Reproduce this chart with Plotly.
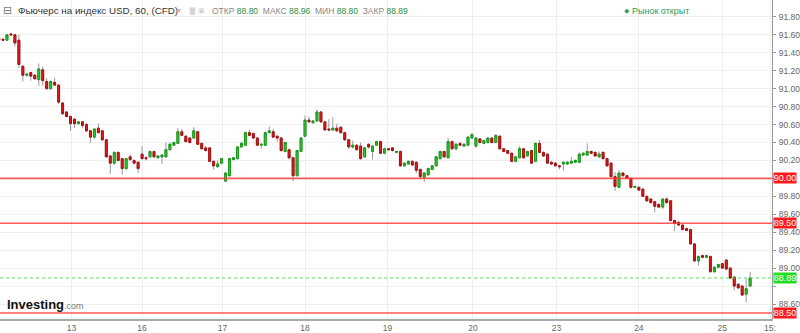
import plotly.graph_objects as go

# ---- data (hourly candles) ----
opens = [91.56, 91.55, 91.54, 91.61, 91.60, 91.54, 91.25, 91.15, 91.18, 91.15,
         91.10, 91.21, 91.08, 91.00, 91.07, 91.04, 90.84, 90.74, 90.69, 90.66,
         90.61, 90.63, 90.60, 90.53, 90.46, 90.56, 90.53, 90.43, 90.25, 90.17,
         90.29, 90.22, 90.11, 90.24, 90.20, 90.18, 90.27, 90.23, 90.24, 90.30,
         90.23, 90.24, 90.24, 90.32, 90.37, 90.39, 90.52, 90.47, 90.45, 90.45,
         90.52, 90.39, 90.34, 90.34, 90.19, 90.13, 90.17, 89.97, 90.03, 90.21,
         90.22, 90.35, 90.37, 90.51, 90.50, 90.45, 90.37, 90.37, 90.51, 90.52,
         90.47, 90.45, 90.30, 90.32, 90.23, 90.03, 90.30, 90.47, 90.65, 90.62,
         90.64, 90.74, 90.63, 90.55, 90.54, 90.56, 90.57, 90.51, 90.43, 90.35,
         90.37, 90.36, 90.24, 90.38, 90.30, 90.37, 90.41, 90.28, 90.33, 90.34,
         90.29, 90.30, 90.14, 90.16, 90.19, 90.18, 90.10, 90.01, 90.04, 90.10,
         90.14, 90.22, 90.30, 90.23, 90.41, 90.33, 90.39, 90.36, 90.37, 90.45,
         90.36, 90.44, 90.39, 90.40, 90.45, 90.40, 90.47, 90.33, 90.31, 90.28,
         90.19, 90.23, 90.33, 90.25, 90.31, 90.19, 90.39, 90.29, 90.27, 90.18,
         90.17, 90.14, 90.16, 90.16, 90.17, 90.18, 90.18, 90.26, 90.26, 90.30,
         90.29, 90.24, 90.29, 90.22, 90.17, 90.02, 89.90, 90.06, 90.03, 90.00,
         89.90, 89.90, 89.88, 89.80, 89.77, 89.74, 89.71, 89.68, 89.77, 89.75,
         89.53, 89.51, 89.48, 89.44, 89.43, 89.27, 89.08, 89.14, 89.12, 89.13,
         88.96, 89.01, 89.05, 89.09, 89.00, 88.90, 88.82, 88.80, 88.71, 88.80]
highs = [91.57, 91.56, 91.61, 91.62, 91.61, 91.60, 91.26, 91.18, 91.19, 91.16,
         91.28, 91.25, 91.12, 91.09, 91.12, 91.05, 90.85, 90.75, 90.70, 90.67,
         90.64, 90.64, 90.62, 90.54, 90.56, 90.61, 90.54, 90.44, 90.26, 90.30,
         90.30, 90.23, 90.23, 90.27, 90.21, 90.19, 90.36, 90.25, 90.31, 90.31,
         90.26, 90.27, 90.40, 90.40, 90.41, 90.56, 90.55, 90.48, 90.46, 90.57,
         90.53, 90.40, 90.36, 90.35, 90.20, 90.20, 90.23, 90.07, 90.23, 90.24,
         90.36, 90.41, 90.52, 90.54, 90.51, 90.46, 90.39, 90.52, 90.58, 90.55,
         90.48, 90.46, 90.41, 90.33, 90.24, 90.32, 90.46, 90.70, 90.69, 90.65,
         90.77, 90.75, 90.64, 90.66, 90.68, 90.61, 90.58, 90.52, 90.44, 90.42,
         90.38, 90.40, 90.35, 90.39, 90.37, 90.42, 90.42, 90.34, 90.34, 90.35,
         90.31, 90.31, 90.18, 90.20, 90.20, 90.19, 90.11, 90.07, 90.12, 90.15,
         90.25, 90.31, 90.31, 90.45, 90.42, 90.40, 90.40, 90.39, 90.47, 90.50,
         90.46, 90.45, 90.43, 90.46, 90.46, 90.49, 90.48, 90.34, 90.32, 90.29,
         90.25, 90.36, 90.34, 90.31, 90.32, 90.40, 90.43, 90.30, 90.28, 90.19,
         90.18, 90.15, 90.19, 90.19, 90.24, 90.21, 90.29, 90.29, 90.39, 90.31,
         90.30, 90.30, 90.30, 90.23, 90.18, 90.07, 90.09, 90.07, 90.04, 90.01,
         89.92, 89.91, 89.89, 89.81, 89.78, 89.75, 89.72, 89.78, 89.79, 89.76,
         89.54, 89.53, 89.49, 89.45, 89.44, 89.28, 89.14, 89.15, 89.15, 89.14,
         89.02, 89.05, 89.06, 89.10, 89.01, 88.91, 88.83, 88.81, 88.88, 88.96]
lows = [91.54, 91.53, 91.53, 91.59, 91.47, 91.23, 91.08, 91.13, 91.09, 91.10,
        91.03, 91.03, 90.99, 90.99, 91.03, 90.83, 90.71, 90.68, 90.53, 90.56,
        90.60, 90.56, 90.52, 90.40, 90.44, 90.50, 90.42, 90.23, 90.05, 90.15,
        90.19, 90.04, 90.09, 90.19, 90.16, 90.06, 90.21, 90.20, 90.23, 90.23,
        90.22, 90.16, 90.23, 90.31, 90.36, 90.38, 90.47, 90.40, 90.39, 90.44,
        90.37, 90.32, 90.30, 90.18, 90.10, 90.12, 90.16, 89.96, 90.02, 90.20,
        90.21, 90.34, 90.36, 90.47, 90.44, 90.36, 90.33, 90.36, 90.50, 90.45,
        90.41, 90.30, 90.29, 90.21, 89.97, 90.02, 90.29, 90.46, 90.62, 90.61,
        90.63, 90.62, 90.53, 90.53, 90.53, 90.52, 90.50, 90.42, 90.33, 90.33,
        90.31, 90.21, 90.23, 90.33, 90.21, 90.36, 90.27, 90.27, 90.31, 90.30,
        90.28, 90.13, 90.13, 90.15, 90.14, 90.06, 89.99, 89.96, 90.03, 90.09,
        90.13, 90.21, 90.23, 90.22, 90.32, 90.31, 90.36, 90.35, 90.36, 90.44,
        90.34, 90.39, 90.38, 90.39, 90.39, 90.39, 90.32, 90.29, 90.27, 90.18,
        90.18, 90.22, 90.22, 90.24, 90.16, 90.18, 90.28, 90.24, 90.16, 90.15,
        90.13, 90.10, 90.09, 90.15, 90.16, 90.17, 90.17, 90.25, 90.25, 90.27,
        90.24, 90.23, 90.21, 90.13, 90.01, 89.86, 89.89, 90.02, 89.99, 89.89,
        89.89, 89.86, 89.79, 89.74, 89.72, 89.62, 89.67, 89.66, 89.72, 89.52,
        89.41, 89.47, 89.42, 89.41, 89.26, 89.07, 89.03, 89.11, 89.11, 88.95,
        88.95, 89.00, 88.99, 88.98, 88.88, 88.75, 88.77, 88.69, 88.62, 88.80]
closes = [91.55, 91.54, 91.60, 91.60, 91.51, 91.27, 91.15, 91.16, 91.14, 91.11,
          91.22, 91.09, 91.00, 91.08, 91.04, 90.85, 90.72, 90.69, 90.61, 90.61,
          90.63, 90.59, 90.53, 90.46, 90.55, 90.51, 90.43, 90.24, 90.17, 90.29,
          90.20, 90.11, 90.22, 90.21, 90.17, 90.11, 90.22, 90.22, 90.30, 90.24,
          90.25, 90.26, 90.32, 90.38, 90.40, 90.52, 90.48, 90.41, 90.40, 90.53,
          90.38, 90.33, 90.31, 90.19, 90.14, 90.16, 90.22, 90.06, 90.22, 90.23,
          90.35, 90.39, 90.51, 90.48, 90.45, 90.37, 90.38, 90.51, 90.53, 90.46,
          90.45, 90.31, 90.40, 90.23, 90.03, 90.31, 90.45, 90.65, 90.63, 90.64,
          90.74, 90.63, 90.54, 90.54, 90.56, 90.53, 90.51, 90.43, 90.35, 90.37,
          90.32, 90.22, 90.34, 90.35, 90.36, 90.41, 90.28, 90.33, 90.32, 90.31,
          90.30, 90.14, 90.17, 90.19, 90.15, 90.09, 90.02, 90.06, 90.11, 90.14,
          90.24, 90.30, 90.24, 90.41, 90.33, 90.38, 90.37, 90.38, 90.46, 90.49,
          90.45, 90.40, 90.42, 90.45, 90.40, 90.48, 90.33, 90.30, 90.28, 90.19,
          90.24, 90.33, 90.23, 90.30, 90.17, 90.39, 90.29, 90.25, 90.17, 90.16,
          90.14, 90.13, 90.18, 90.18, 90.19, 90.20, 90.27, 90.28, 90.30, 90.28,
          90.25, 90.27, 90.22, 90.14, 90.02, 89.91, 90.06, 90.03, 90.00, 89.90,
          89.91, 89.87, 89.80, 89.75, 89.73, 89.69, 89.68, 89.77, 89.73, 89.53,
          89.50, 89.48, 89.43, 89.42, 89.27, 89.08, 89.13, 89.12, 89.14, 88.96,
          89.01, 89.04, 89.00, 88.99, 88.89, 88.80, 88.78, 88.70, 88.77, 88.89]

day_tick_pos = [18.25, 36, 56.25, 77, 97.75, 119.25, 140.25, 161, 182, 194]
day_tick_labels = ["13", "16", "17", "18", "19", "20", "23", "24", "25", "15:"]
price_ticks = [88.6, 88.8, 89.0, 89.2, 89.4, 89.6, 89.8, 90.0, 90.2, 90.4,
               90.6, 90.8, 91.0, 91.2, 91.4, 91.6, 91.8]
hidden_price_ticks = [88.8, 90.0]
level_lines = [90.00, 89.50, 88.50]
last_price = 88.89

title_text = "Фьючерс на индекс USD, 60, (CFD)"
ohlc_labels = ["ОТКР", "МАКС", "МИН", "ЗАКР"]
ohlc_values = ["88.80", "88.96", "88.80", "88.89"]
status_text = "Рынок открыт"

# ---- geometry ----
W, H = 800, 333
ML, MR, MT, MB = 0, 23, 0, 12
PW, PH = W - ML - MR, H - MT - MB
X0 = 0.25
X1 = X0 + PW / 4.0
Y0, Y1 = 88.433, 91.988

FONT = "Liberation Sans, Arial, sans-serif"

x = list(range(len(opens)))
body_hi = [max(o, c) for o, c in zip(opens, closes)]
body_lo = [min(o, c) for o, c in zip(opens, closes)]

fig = go.Figure()
# wicks (gray)
fig.add_trace(go.Candlestick(
    x=x, open=opens, high=highs, low=lows, close=closes,
    increasing=dict(line=dict(color="#9a9a9a", width=1), fillcolor="#9a9a9a"),
    decreasing=dict(line=dict(color="#9a9a9a", width=1), fillcolor="#9a9a9a"),
    whiskerwidth=0, hoverinfo="skip", showlegend=False))
# bodies
fig.add_trace(go.Candlestick(
    x=x, open=opens, high=body_hi, low=body_lo, close=closes,
    increasing=dict(line=dict(color="#169a16", width=1), fillcolor="#2fd12f"),
    decreasing=dict(line=dict(color="#a81010", width=1), fillcolor="#e51c1c"),
    whiskerwidth=0, hoverinfo="skip", showlegend=False))

shapes = []
for lv in level_lines:
    shapes.append(dict(type="line", xref="paper", x0=0, x1=1, yref="y", y0=lv, y1=lv,
                       line=dict(color="rgba(255,60,60,0.85)", width=1.6), layer="above"))
shapes.append(dict(type="line", xref="paper", x0=0, x1=1, yref="y", y0=last_price, y1=last_price,
                   line=dict(color="#5cd65c", width=1, dash="dot"), layer="above"))

annotations = []
for lv in level_lines:
    annotations.append(dict(xref="paper", x=1, xanchor="left", yref="y", y=lv, yanchor="middle",
                            text=f"{lv:.2f}", showarrow=False, bgcolor="#ff1a1a",
                            font=dict(family=FONT, size=9, color="white"),
                            width=22, height=10, borderpad=0, xshift=1))
annotations.append(dict(xref="paper", x=1, xanchor="left", yref="y", y=last_price, yanchor="middle",
                        text=f"{last_price:.2f}", showarrow=False, bgcolor="#22dd22",
                        font=dict(family=FONT, size=9, color="white"),
                        width=22, height=10, borderpad=0, xshift=1))


def px_x(p):
    return p / PW


def px_y(p):
    return 1 - p / PH


# header
annotations.append(dict(xref="paper", yref="paper", x=px_x(1), y=px_y(11), xanchor="left", yanchor="middle",
                        text="⊟", showarrow=False, font=dict(family="DejaVu Sans", size=11, color="#777")))
annotations.append(dict(xref="paper", yref="paper", x=px_x(16), y=px_y(11), xanchor="left", yanchor="middle",
                        text=title_text, showarrow=False, font=dict(family=FONT, size=9.8, color="#333")))
annotations.append(dict(xref="paper", yref="paper", x=px_x(176), y=px_y(11), xanchor="left", yanchor="middle",
                        text="▾", showarrow=False, font=dict(family="DejaVu Sans", size=8, color="#bbb")))
annotations.append(dict(xref="paper", yref="paper", x=px_x(188), y=px_y(11), xanchor="left", yanchor="middle",
                        text="◙ ▣", showarrow=False, font=dict(family="DejaVu Sans", size=7, color="#d0d0d0")))
parts = []
for lab, val in zip(ohlc_labels, ohlc_values):
    parts.append(f"<span style='color:#888'>{lab}</span> <span style='color:#2e8b3e'>{val}</span>")
annotations.append(dict(xref="paper", yref="paper", x=px_x(211), y=px_y(11), xanchor="left", yanchor="middle",
                        text="  ".join(parts), showarrow=False, font=dict(family=FONT, size=8.5)))
annotations.append(dict(xref="paper", yref="paper", x=px_x(695), y=px_y(11), xanchor="right", yanchor="middle",
                        text="● " + status_text, showarrow=False,
                        font=dict(family=FONT, size=9, color="#2e9a55")))
# logo
annotations.append(dict(xref="paper", yref="paper", x=px_x(5), y=px_y(306), xanchor="left", yanchor="middle",
                        text="<b>Investing</b><span style='font-size:9px;color:#777'>.com</span>",
                        showarrow=False, font=dict(family=FONT, size=13, color="#111")))

tick_text = ["" if t in hidden_price_ticks else f"{t:.2f}" for t in price_ticks]

fig.update_layout(
    width=W, height=H,
    margin=dict(l=ML, r=MR, t=MT, b=MB),
    paper_bgcolor="white", plot_bgcolor="white",
    showlegend=False, hovermode=False,
    font=dict(family=FONT),
    shapes=shapes, annotations=annotations,
    xaxis=dict(range=[X0, X1], rangeslider=dict(visible=False),
               tickmode="array", tickvals=day_tick_pos, ticktext=day_tick_labels,
               showgrid=True, gridcolor="#efefef", gridwidth=1,
               ticks="", tickfont=dict(size=8.5, color="#666"),
               showline=True, linecolor="#aaaaaa", linewidth=2,
               zeroline=False, fixedrange=True, ticklabelstandoff=0),
    yaxis=dict(range=[Y0, Y1], side="right",
               tickmode="array", tickvals=price_ticks, ticktext=tick_text,
               showgrid=True, gridcolor="#efefef", gridwidth=1,
               ticks="outside", ticklen=3, tickcolor="#999",
               tickfont=dict(size=8.5, color="#666"),
               showline=True, linecolor="#999", linewidth=1,
               zeroline=False, fixedrange=True, ticklabelstandoff=1),
)

fig.write_html("out.html")
